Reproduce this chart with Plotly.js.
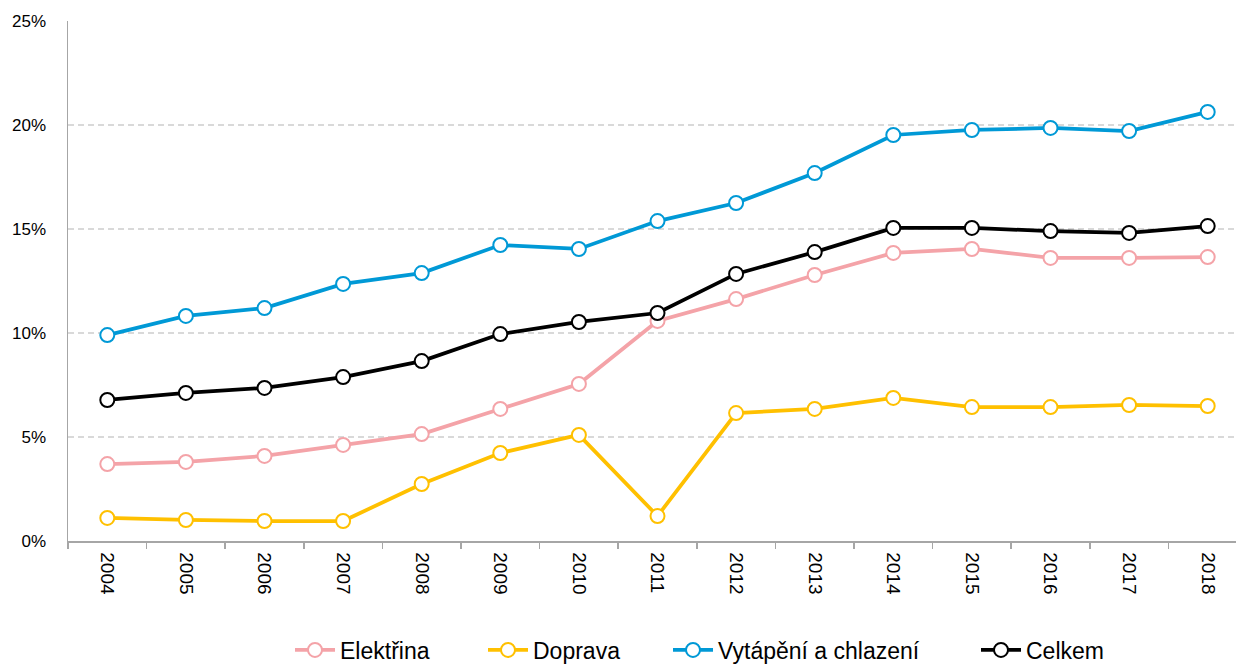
<!DOCTYPE html>
<html>
<head>
<meta charset="utf-8">
<script src="https://cdn.plot.ly/plotly-3.0.1.min.js"></script>
<style>html,body{margin:0;padding:0;background:#fff;}#chart{width:1236px;height:666px;}</style>
</head>
<body>
<div id="chart"></div>
<script>
const years = ["2004","2005","2006","2007","2008","2009","2010","2011","2012","2013","2014","2015","2016","2017","2018"];
const elektrina = [3.70,3.80,4.09,4.62,5.14,6.35,7.55,10.58,11.63,12.79,13.85,14.04,13.61,13.61,13.65];
const doprava = [1.11,1.01,0.96,0.96,2.74,4.23,5.10,1.20,6.15,6.35,6.88,6.44,6.44,6.54,6.49];
const vytapeni = [9.90,10.82,11.20,12.36,12.88,14.23,14.04,15.38,16.25,17.69,19.52,19.76,19.86,19.71,20.63];
const celkem = [6.78,7.12,7.36,7.88,8.65,9.95,10.53,10.96,12.84,13.89,15.05,15.05,14.90,14.81,15.14];
const names = ["Elektřina","Doprava","Vytápění a chlazení","Celkem"];
const colors = ["#F4A3A8","#FFC000","#0099D6","#000000"];
const series = [elektrina, doprava, vytapeni, celkem];
const legendIds = ["legend","legend2","legend3","legend4"];
const legendX = [290, 483, 668, 976];

const traces = series.map((s,i)=>({
  x: years, y: s.map(v=>v/100), name: names[i], type:'scatter', mode:'lines+markers',
  line:{color:colors[i], width:3.75},
  marker:{size:14, color:'#ffffff', line:{color:colors[i], width:2}},
  legend: legendIds[i],
  hoverinfo:'skip'
}));

const font = "Liberation Sans, Arial, sans-serif";
const layout = {
  width:1236, height:666,
  margin:{l:68, r:0, t:21, b:125, autoexpand:false},
  paper_bgcolor:'#fff', plot_bgcolor:'#fff',
  font:{family:font, color:'#000', size:17},
  showlegend:true,
  xaxis:{type:'category', range:[-0.5,14.36], tickangle:90, tickson:'boundaries', ticks:'outside', ticklen:6, tickcolor:'#a6a6a6', tickwidth:1.5,
    showline:true, linecolor:'#a6a6a6', linewidth:1.5, showgrid:false, zeroline:false, tickfont:{size:19}, ticklabelstandoff:6, automargin:false},
  yaxis:{range:[0,0.25], dtick:0.05, tickformat:'.0%', showgrid:true, gridcolor:'#d9d9d9', griddash:'6px,4px', gridwidth:1.2,
    showline:true, linecolor:'#a6a6a6', linewidth:1.5, zeroline:false, ticks:'', tickfont:{size:17}, ticklabelstandoff:17, automargin:false}
};
legendIds.forEach((id,i)=>{
  layout[id] = {orientation:'h', xref:'container', x:legendX[i]/1236, xanchor:'left', yref:'paper', y:-0.2095, yanchor:'middle',
    font:{size:23, family:font}, itemwidth:40, bgcolor:'rgba(0,0,0,0)'};
});
Plotly.newPlot('chart', traces, layout, {displayModeBar:false, staticPlot:true});
</script>
</body>
</html>
